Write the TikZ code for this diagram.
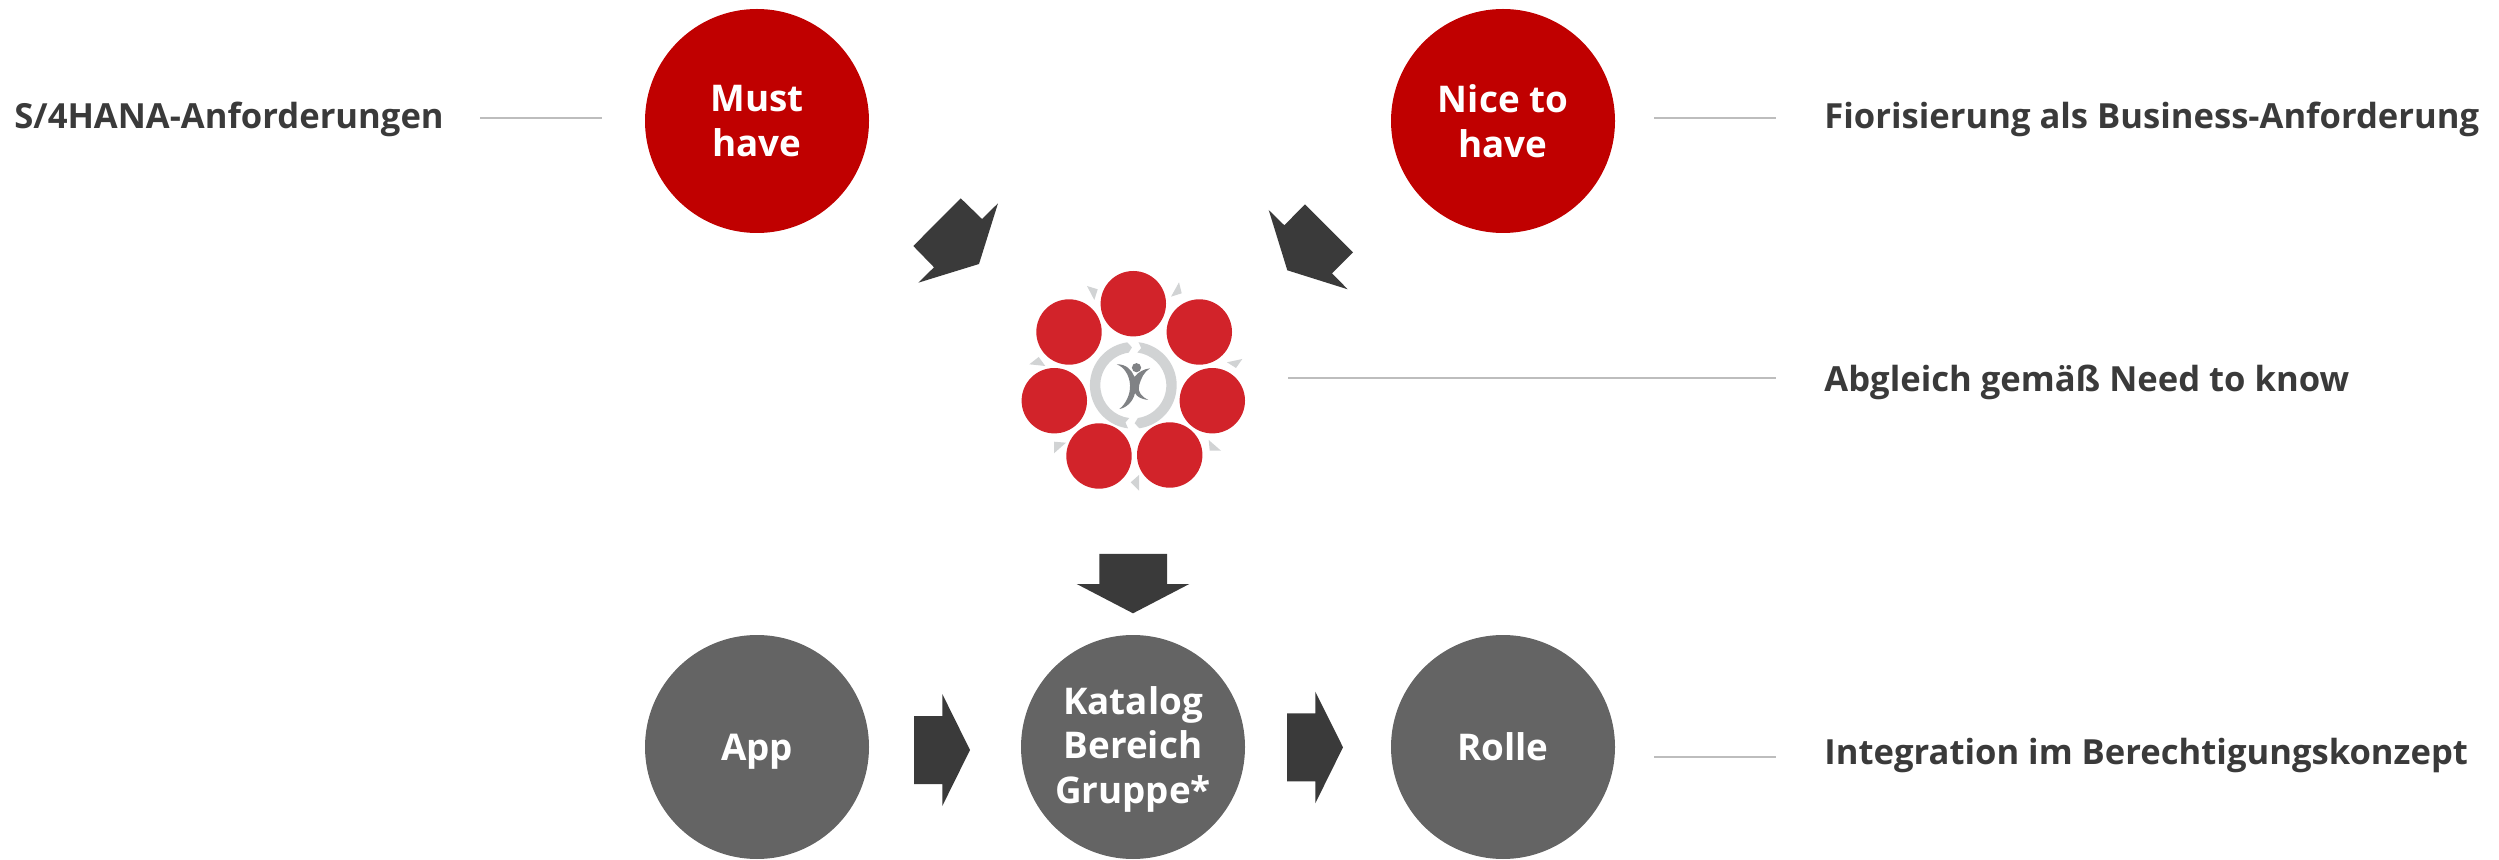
\documentclass[tikz,border=0pt]{standalone}
\usepackage{fontspec}
\setmainfont{Open Sans}
\definecolor{bigred}{HTML}{C00000}
\definecolor{biggrey}{HTML}{646464}
\definecolor{arrowgrey}{HTML}{3A3A3A}
\definecolor{smallred}{HTML}{D2232A}
\definecolor{ringgrey}{HTML}{D1D3D4}
\definecolor{figgrey}{HTML}{808285}
\definecolor{linegrey}{HTML}{BDBDBD}
\tikzset{
	bigcircle/.style={circle, draw=none, minimum size=112pt, inner sep=0pt, align=center,
		text=white, font=\fontsize{18.4}{22.3}\selectfont\bfseries},
	smallcircle/.style={circle, fill=smallred, minimum size=32.7pt, inner sep=0pt},
	sidelabel/.style={anchor=base west, inner sep=0pt, text=arrowgrey,
		font=\fontsize{17.3}{20}\selectfont\bfseries},
	sideline/.style={draw=linegrey, line width=0.8pt},
	blockarrow/.style={fill=arrowgrey},
	ringpart/.style={fill=ringgrey},
}
\begin{document}
\begin{tikzpicture}[x=.5pt, y=-.5pt]
	\useasboundingbox (0,0) rectangle (2499,860);
	%big circles
	\node[bigcircle, fill=bigred] (must) at (757,121) {Must\\have};
	\node[bigcircle, fill=bigred] (nice) at (1503,121) {Nice to\\have};
	\node[bigcircle, fill=biggrey, text depth=0pt] (app) at (757,747) {App};
	\node[bigcircle, fill=biggrey, text depth=2pt] (katalog) at (1133,747) {Katalog\\Bereich\\Gruppe*};
	\node[bigcircle, fill=biggrey] (rolle) at (1503,747) {Rolle};
	%labels
	\node[sidelabel] (s4) at (14,129) {S/4HANA-Anforderungen};
	\node[sidelabel] (fiori) at (1824,129) {Fiorisierung als Business-Anforderung};
	\node[sidelabel] (abgleich) at (1824,391.5) {Abgleich gemäß Need to know};
	\node[sidelabel] (integration) at (1824,764) {Integration im Berechtigungskonzept};
	%side lines
	\coordinate (s4 end) at (480,118);
	\coordinate (must end) at (602,118);
	\coordinate (nice end) at (1654,118);
	\coordinate (fiori end) at (1776,118);
	\coordinate (wheel end) at (1288,378);
	\coordinate (abgleich end) at (1776,378);
	\coordinate (rolle end) at (1654,757);
	\coordinate (integration end) at (1776,757);
	\draw[sideline] (s4 end) -- (must end);
	\draw[sideline] (nice end) -- (fiori end);
	\draw[sideline] (wheel end) -- (abgleich end);
	\draw[sideline] (rolle end) -- (integration end);
	%block arrows
	\fill[blockarrow] (960.7,198.3) -- (982,219) -- (998,203.3) -- (979,264) -- (918.3,282.7)
		-- (934,267.3) -- (913.3,246) -- cycle;
	\fill[blockarrow] (1305,204.3) -- (1353,252.3) -- (1332,273.3) -- (1347.7,289.3)
		-- (1287.3,270.3) -- (1268.7,210) -- (1284.3,225.3) -- cycle;
	\fill[blockarrow] (1099.3,554) -- (1167,554) -- (1167,584) -- (1189.3,584) -- (1133,613.3)
		-- (1076.7,584) -- (1099.3,584) -- cycle;
	\fill[blockarrow] (914,716) -- (942.3,716) -- (942.3,694) -- (970,750) -- (942.3,806)
		-- (942.3,784) -- (914,784) -- cycle;
	\fill[blockarrow] (1287,713.3) -- (1315.3,713.3) -- (1315.3,691.7) -- (1343,747.3)
		-- (1315.3,803.3) -- (1315.3,781.3) -- (1287,781.3) -- cycle;
	%wheel
	\foreach \x/\y [count=\i] in {1133.3/303.7, 1199.3/332, 1212.3/400.7, 1169.7/455,
		1099/456, 1054.3/400.7, 1069/332}
	\node[smallcircle] (wheel\i) at (\x,\y) {};
	\foreach \a/\b/\c/\d/\e/\f in {
		1087/286/1097.7/289.3/1094.3/300,
		1179/282.3/1181.7/293.3/1171/296.7,
		1242.3/359/1227/362.3/1236/368,
		1208.7/440/1221/450.7/1209.7/450.7,
		1139/475/1130.7/482.3/1139/490.7,
		1066/442.7/1054/441.7/1054/453.3,
		1029.3/364.3/1038.7/357/1045.3/366}
	\fill[ringgrey] (\a,\b) -- (\c,\d) -- (\e,\f) -- cycle;
	%ring
	\coordinate (hub) at (1133.3,385.3);
	\foreach \r in {0,180}
	\fill[ringpart, shift={(hub)}, rotate=\r] (83:21.7pt) arc (83:-82:21.7pt) -- (-88:19pt)
		-- (-82:16.5pt) arc (-82:83:16.5pt) -- (78:19pt) -- cycle;
	%figure
	\fill[figgrey] (1136.5,367.7) circle (2.3pt);
	\fill[figgrey] (1116.7,364.3) .. controls (1126,364) and (1132,370) .. (1134.5,377)
		.. controls (1138,372) and (1144,369) .. (1150,368.3)
		.. controls (1144,372) and (1141,378) .. (1139,386)
		.. controls (1137.5,392) and (1142,397) .. (1148.3,400)
		.. controls (1141,399) and (1137,397) .. (1135,393)
		.. controls (1133,402) and (1126,408) .. (1119.3,409)
		.. controls (1126,404) and (1130.5,394) .. (1130,385)
		.. controls (1129.5,375) and (1124,367) .. (1116.7,364.3) -- cycle;
\end{tikzpicture}
\end{document}
